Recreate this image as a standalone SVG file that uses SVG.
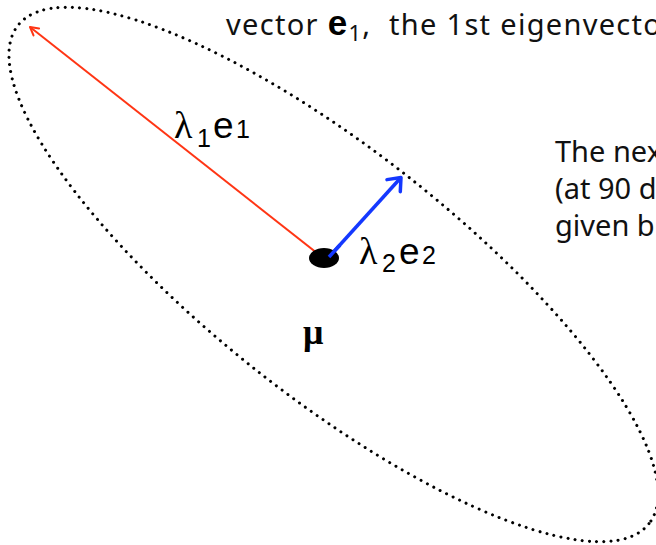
<svg xmlns="http://www.w3.org/2000/svg" width="656" height="545" viewBox="0 0 656 545">
<style>
.body{font-family:"Noto Sans",Lato,sans-serif;font-size:29px;fill:#111}
.gr{font-family:"Liberation Serif",serif;fill:#000}
.vec{font-family:"Liberation Sans",Arial,sans-serif;fill:#000}
</style>
<defs>
<marker id="ahRed" markerUnits="userSpaceOnUse" markerWidth="14" markerHeight="14" refX="10" refY="7" orient="auto" overflow="visible">
<path d="M2,2.5 L10,7 L2,11.5" fill="none" stroke="#ff3514" stroke-width="2" stroke-linecap="round" stroke-linejoin="round"/>
</marker>
<marker id="ahBlue" markerUnits="userSpaceOnUse" markerWidth="20" markerHeight="20" refX="14" refY="10" orient="auto" overflow="visible">
<path d="M3,1 L14,10 L3,19" fill="none" stroke="#1438ff" stroke-width="3.5" stroke-linecap="round" stroke-linejoin="round"/>
</marker>
</defs>
<rect width="656" height="545" fill="#fff"/>
<g id="distribution">
<ellipse cx="333.5" cy="274.5" rx="402" ry="123" transform="rotate(38.3 333.5 274.5)" fill="none" stroke="#000" stroke-width="3" stroke-dasharray="0 7.2" stroke-linecap="round"/>
</g>
<g id="connectors">
<line x1="322" y1="257" x2="30" y2="27" stroke="#ff3514" stroke-width="2" marker-end="url(#ahRed)"/>
<line x1="329" y1="257" x2="401" y2="177.5" stroke="#1438ff" stroke-width="3.5" marker-end="url(#ahBlue)"/>
</g>
<g id="mean">
<ellipse cx="324" cy="258" rx="15" ry="10" fill="#000"/>
<line x1="329" y1="257" x2="340" y2="245" stroke="#1438ff" stroke-width="3.5"/>
</g>
<g id="label-e1">
<text class="gr" x="174" y="138" font-size="38">λ</text>
<text class="vec" x="197" y="147" font-size="25">1</text>
<text class="vec" x="213" y="138" font-size="37">e</text>
<text class="vec" x="236" y="138" font-size="25">1</text>
</g>
<g id="label-e2">
<text class="gr" x="359" y="264" font-size="38">λ</text>
<text class="vec" x="382" y="272" font-size="25">2</text>
<text class="vec" x="399" y="264" font-size="37">e</text>
<text class="vec" x="422" y="264" font-size="25">2</text>
</g>
<g id="label-mu">
<text class="gr" x="303" y="344" font-size="36" font-weight="bold">μ</text>
</g>
<g id="caption-top">
<text class="body" x="226" y="35" font-size="29" letter-spacing="1.3" xml:space="preserve">vector <tspan class="vec" font-size="35" font-weight="bold">e</tspan><tspan font-size="22" dy="6">1</tspan><tspan dy="-6">,  the 1st eigenvector</tspan></text>
</g>
<g id="caption-right">
<text class="body" x="555" y="162">The nex</text>
<text class="body" x="555" y="199">(at 90 d</text>
<text class="body" x="555" y="236">given b</text>
</g>
</svg>
